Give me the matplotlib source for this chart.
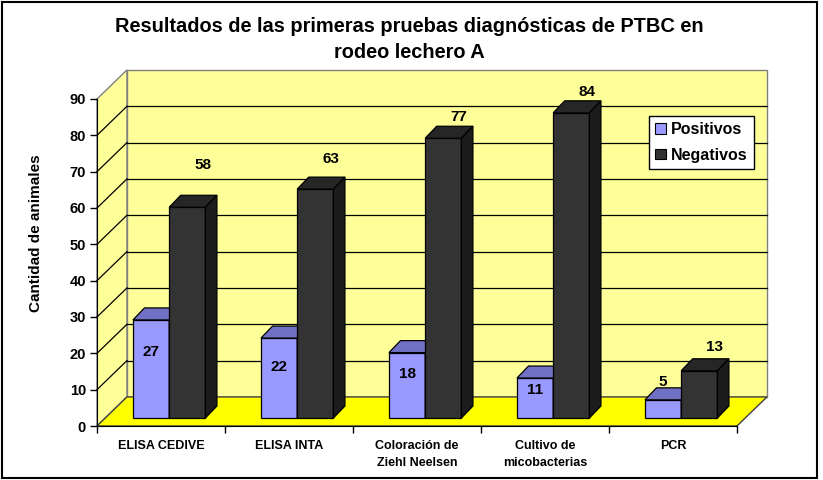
import numpy as np
import matplotlib
matplotlib.use("Agg")
import matplotlib.pyplot as plt
from matplotlib.patches import Polygon, Rectangle, Patch

plt.rcParams.update({
    "font.family": ["Liberation Sans", "DejaVu Sans"],
    "font.weight": "bold",
})

categories = ["ELISA CEDIVE", "ELISA INTA", "Coloración de\nZiehl Neelsen",
              "Cultivo de\nmicobacterias", "PCR"]
positivos = [27, 22, 18, 11, 5]
negativos = [58, 63, 77, 84, 13]
yticks = [0, 10, 20, 30, 40, 50, 60, 70, 80, 90]

C_POS = ("#9999FF", "#7070C4", "#5C5CA6")
C_NEG = ("#333333", "#262626", "#1C1C1C")
WALL, FLOOR, EDGE = "#FFFF99", "#FFFF00", "#808080"

# faux-3D geometry (in data units: x = category, y = value)
DX, DY = 0.234, 8.0          # wall depth
BX, BY = 0.064, 2.2          # bar row sits a bit behind the front edge
BW = 0.283                   # bar width
BDX, BDY = 0.09, 3.3         # bar depth

fig = plt.figure(figsize=(8.23, 4.8), dpi=100)
ax = fig.add_axes([97 / 823, 54 / 480, 640 / 823, 327 / 480])
ax.set_xlim(0, len(categories))
ax.set_ylim(0, yticks[-1])
ax.patch.set_visible(False)
for s in ("top", "right"):
    ax.spines[s].set_visible(False)
n = len(categories)
ymax = yticks[-1]

# walls and floor
ax.add_patch(Polygon([(DX, DY), (n + DX, DY), (n + DX, ymax + DY), (DX, ymax + DY)],
                     closed=True, fc=WALL, ec=EDGE, lw=1, zorder=0.5, clip_on=False))
ax.add_patch(Polygon([(0, 0), (DX, DY), (DX, ymax + DY), (0, ymax)],
                     closed=True, fc=WALL, ec=EDGE, lw=1, zorder=0.5, clip_on=False))
for v in yticks[1:-1]:
    ax.plot([DX, n + DX], [v + DY, v + DY], color="black", lw=0.9, zorder=0.7, clip_on=False)
    ax.plot([0, DX], [v, v + DY], color="black", lw=0.9, zorder=0.7, clip_on=False)
ax.add_patch(Polygon([(0, 0), (n, 0), (n + DX, DY), (DX, DY)],
                     closed=True, fc=FLOOR, ec="#404040", lw=1, zorder=0.8, clip_on=False))


def bar3d(x0, h, cols):
    ax.bar(x0, h, BW, bottom=BY, align="edge", color=cols[0], edgecolor="black",
           lw=0.9, zorder=3)
    top = BY + h
    ax.add_patch(Polygon([(x0, top), (x0 + BDX, top + BDY), (x0 + BW + BDX, top + BDY),
                          (x0 + BW, top)], closed=True, fc=cols[1], ec="black",
                         lw=0.9, zorder=3, clip_on=False))
    ax.add_patch(Polygon([(x0 + BW, BY), (x0 + BW + BDX, BY + BDY),
                          (x0 + BW + BDX, top + BDY), (x0 + BW, top)], closed=True,
                         fc=cols[2], ec="black", lw=0.9, zorder=3, clip_on=False))


# label nudges, as Excel placed them
pos_dy = [-6.6, -5.7, -3.7, -1.1, 7.1]
neg_dy = [13.9, 10.6, 8.1, 8.0, 8.8]

x = np.arange(n)
for i in range(n):
    xl = x[i] + 0.5 + BX - BW
    bar3d(xl, positivos[i], C_POS)
    bar3d(xl + BW, negativos[i], C_NEG)
    ax.text(xl + BW / 2, positivos[i] + pos_dy[i], str(positivos[i]), ha="center",
            va="center", fontsize=11, fontweight="bold", zorder=5)
    ax.text(xl + 1.5 * BW + 0.12, negativos[i] + neg_dy[i], str(negativos[i]),
            ha="center", va="center", fontsize=11, fontweight="bold", zorder=5)

# axes
ax.set_yticks(yticks)
ax.set_yticklabels([str(v) for v in yticks], fontsize=10.5, fontweight="bold")
ax.set_xticks(np.arange(n + 1))
ax.set_xticklabels([])
ax.set_xticks(x + 0.5, minor=True)
ax.set_xticklabels(categories, minor=True, fontsize=9, fontweight="bold",
                   linespacing=1.6)
ax.tick_params(axis="both", which="major", direction="out", length=5, width=1)
ax.tick_params(axis="x", which="minor", length=0, pad=10)
ax.tick_params(axis="y", pad=3)
ax.set_ylabel("Cantidad de animales", fontsize=11, fontweight="bold")
ax.yaxis.set_label_coords(-0.085, 0.59)

fig.text(0.497, 0.918, "Resultados de las primeras pruebas diagnósticas de PTBC en\nrodeo lechero A",
         ha="center", va="center", fontsize=14.4, fontweight="bold", linespacing=1.45)

handles = [Patch(fc=C_POS[0], ec="black", lw=0.8), Patch(fc=C_NEG[0], ec="black", lw=0.8)]
leg = fig.legend(handles, ["Positivos", "Negativos"], loc="upper left",
                 bbox_to_anchor=(649 / 823, 1 - 116 / 480), fontsize=11.5,
                 frameon=True, fancybox=False, edgecolor="black", framealpha=1,
                 handlelength=0.65, handleheight=0.65, handletextpad=0.3,
                 borderpad=0.4, labelspacing=0.65, borderaxespad=0)
leg.get_frame().set_linewidth(1)

fig.add_artist(Rectangle((0.002, 0.004), 0.991, 0.992, transform=fig.transFigure,
                         fill=False, ec="black", lw=1.5))

fig.savefig("out.png", dpi=100)
